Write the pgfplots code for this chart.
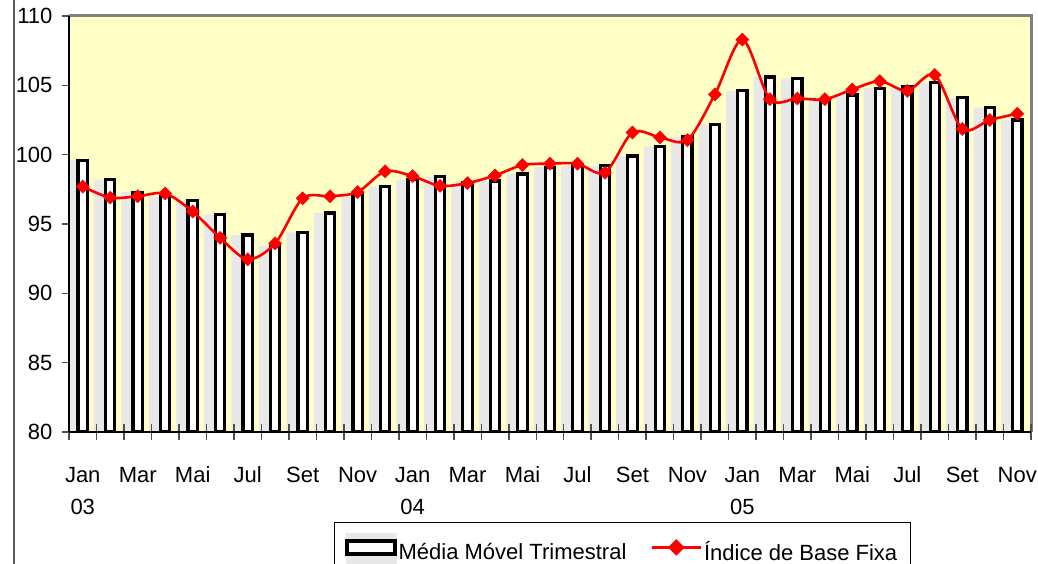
\documentclass[border=0pt]{standalone}
\usepackage{fontspec}
\setmainfont{Liberation Sans}
\usepackage{pgfplots}
\pgfplotsset{compat=1.18}
\definecolor{bgyellow}{HTML}{FFFFC6}
\definecolor{shadowgray}{HTML}{E8E8E8}
\definecolor{bordergray}{HTML}{808080}
\definecolor{tickgray}{HTML}{505050}
\newcommand{\st}{\rule{0pt}{17bp}}

\begin{document}
\fontsize{22bp}{32bp}\selectfont
\begin{tikzpicture}
\useasboundingbox (0,0) rectangle (1038bp,564bp);
\draw[line width=2bp, color=black!65] (14bp,-5bp) -- (14bp,570bp);
\begin{axis}[
  at={(69bp,132bp)}, anchor=south west,
  width=962bp, height=416bp, scale only axis,
  xmin=-0.5, xmax=34.5, ymin=80, ymax=110,
  axis lines*=left,
  axis line style={-, black, line width=1.5bp},
  axis background/.style={fill=bgyellow},
  axis on top,
  clip mode=individual,
  ytick={80,85,...,110},
  xtick={0,2,...,34},
  xticklabels={{\st Jan\\03},\st Mar,\st Mai,\st Jul,\st Set,\st Nov,{\st Jan\\04},\st Mar,\st Mai,\st Jul,\st Set,\st Nov,{\st Jan\\05},\st Mar,\st Mai,\st Jul,\st Set,\st Nov},
  minor xtick={-0.5,0.5,...,34.5},
  xtick align=center,
  ytick align=outside,
  major tick length=7bp,
  minor tick length=15bp,
  major x tick style={draw=none},
  minor x tick style={tickgray, line width=1.5bp},
  major y tick style={tickgray, line width=1.5bp},
  /pgf/number format/assume math mode=true,
  x tick label style={align=center, font=\fontsize{22bp}{32bp}\selectfont, yshift=-22.5bp},
  y tick label style={font=\fontsize{22bp}{32bp}\selectfont, xshift=-2bp},
  legend columns=2,
  legend style={at={(0.2755,-0.216)}, anchor=north west, draw=black, line width=0.9bp,
    inner xsep=11bp, inner ysep=11bp,
    font=\fontsize{22bp}{26bp}\selectfont,
    /tikz/every even column/.append style={column sep=22bp}},
  legend cell align=left,
]
% shadow bars
\addplot[ybar, bar width=10.5bp, bar shift=-11bp, fill=shadowgray, draw=none, forget plot]
coordinates {
(0,99.6) (1,98.2) (2,97.3) (3,97.0) (4,96.7) (5,95.7) (6,94.2) (7,93.4) (8,94.4) (9,95.8)
(10,97.1) (11,97.7) (12,98.2) (13,98.4) (14,98.0) (15,98.1) (16,98.6) (17,99.1) (18,99.2) (19,99.2)
(20,99.9) (21,100.6) (22,101.3) (23,102.2) (24,104.6) (25,105.6) (26,105.5) (27,104.0) (28,104.3) (29,104.8)
(30,104.9) (31,105.2) (32,104.1) (33,103.4) (34,102.5)
};
% main bars: Media Movel Trimestral
\addplot[ybar, bar width=9.3bp, bar shift=0bp, fill=white, draw=black, line width=3.2bp,
  legend image code/.code={
    \fill[shadowgray] (1bp,-16bp) rectangle (48bp,18bp);
    \draw[black, line width=3.2bp, fill=white] (0bp,-1bp) rectangle (48bp,12bp);
  }]
coordinates {
(0,99.6) (1,98.2) (2,97.3) (3,97.0) (4,96.7) (5,95.7) (6,94.2) (7,93.4) (8,94.4) (9,95.8)
(10,97.1) (11,97.7) (12,98.2) (13,98.4) (14,98.0) (15,98.1) (16,98.6) (17,99.1) (18,99.2) (19,99.2)
(20,99.9) (21,100.6) (22,101.3) (23,102.2) (24,104.6) (25,105.6) (26,105.5) (27,104.0) (28,104.3) (29,104.8)
(30,104.9) (31,105.2) (32,104.1) (33,103.4) (34,102.5)
};
\addlegendentry{Média Móvel Trimestral}
% Indice de Base Fixa
\addplot[red, line width=2.6bp, smooth, tension=0.5, mark=square*, mark size=4.6bp,
  mark options={rotate=45, solid, line width=0.5bp, fill=red},
  legend image code/.code={
    \draw[red, line width=2.6bp] (0bp,5.5bp) -- (49bp,5.5bp);
    \fill[red] (24.5bp,5.5bp) +(0,6.5bp) -- +(6.5bp,0) -- +(0,-6.5bp) -- +(-6.5bp,0) -- cycle;
  }]
coordinates {
(0,97.7) (1,96.9) (2,97.0) (3,97.2) (4,95.9) (5,94.0) (6,92.45) (7,93.6) (8,96.85) (9,97.0)
(10,97.3) (11,98.8) (12,98.45) (13,97.75) (14,97.95) (15,98.5) (16,99.25) (17,99.35) (18,99.35) (19,98.7)
(20,101.6) (21,101.25) (22,101.05) (23,104.35) (24,108.3) (25,104.0) (26,104.05) (27,104.0) (28,104.7) (29,105.3)
(30,104.6) (31,105.75) (32,101.85) (33,102.5) (34,102.95)
};
\addlegendentry{Índice de Base Fixa}
\draw[bordergray, line width=3bp] (rel axis cs:0,1) -- (rel axis cs:1,1) -- (rel axis cs:1,0);
\end{axis}
\end{tikzpicture}
\end{document}
